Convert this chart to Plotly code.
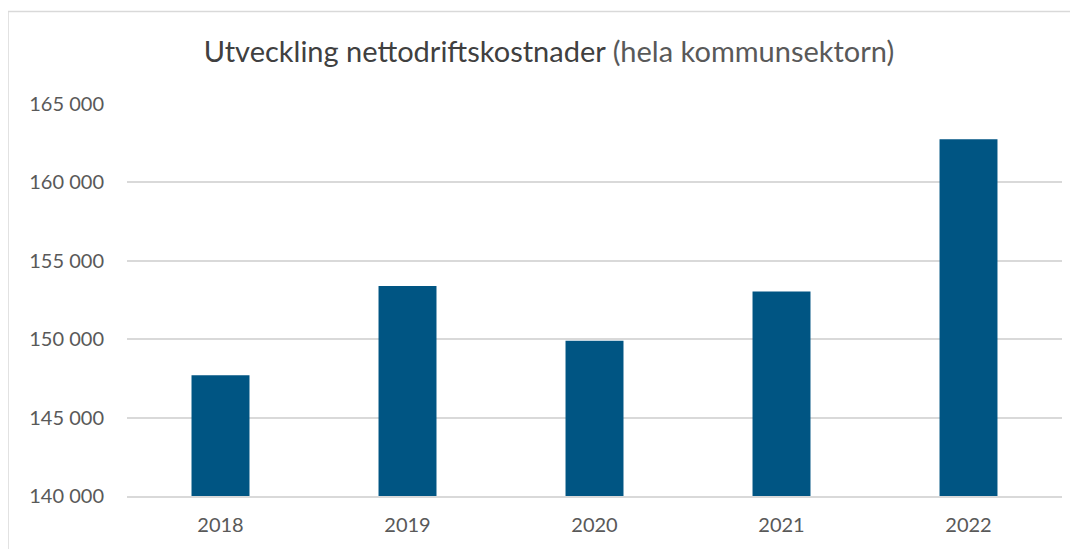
import plotly.graph_objects as go

years = ["2018", "2019", "2020", "2021", "2022"]
values = [147700, 153400, 149900, 153050, 162750]
y_ticks = [140000, 145000, 150000, 155000, 160000, 165000]

# page body has an 8px margin; figure origin sits at (8, 8)
OFF = 8
W, H = 1078 - OFF, 549 - OFF
L, R, T, B = 127 - OFF, 16, 104 - OFF, 53
pw, ph = W - L - R, H - T - B

fig = go.Figure(go.Bar(x=years, y=values, marker=dict(color="#005583", line=dict(width=0)),
                       hoverinfo="x+y"))

font = "Lato, Carlito, sans-serif"

fig.update_layout(
    width=W, height=H,
    margin=dict(l=L, r=R, t=T, b=B),
    paper_bgcolor="white", plot_bgcolor="white",
    separators=", ",
    bargap=0.69,
    showlegend=False,
    font=dict(family=font, size=20, color="#595959"),
    title=dict(
        text="<span style='color:#404040'>Utveckling nettodriftskostnader</span> "
             "<span style='color:#595959'>(hela kommunsektorn)</span>",
        x=(549 - OFF) / W, xanchor="center", y=1 - (52 - OFF) / H, yanchor="middle",
        font=dict(family=font, size=29, color="#404040"),
    ),
    xaxis=dict(
        type="category", showgrid=False, showline=True, linecolor="#d9d9d9", linewidth=1.5,
        ticks="", ticklabelstandoff=10, tickfont=dict(size=20, color="#595959"),
    ),
    yaxis=dict(
        range=[140000, 165000], tickvals=y_ticks, tickformat=",d",
        showgrid=True, gridcolor="#d9d9d9", gridwidth=1.5, zeroline=False, showline=False,
        ticks="", ticklabelstandoff=22, tickfont=dict(size=20, color="#595959"),
    ),
    shapes=[
        dict(type="line", xref="paper", yref="paper",
             x0=(8 - 127) / pw, x1=(1085 - 127) / pw,
             y0=(496 - 11.5) / ph, y1=(496 - 11.5) / ph,
             line=dict(color="#d9d9d9", width=1.5)),
        dict(type="line", xref="paper", yref="paper",
             x0=(8 - 127) / pw, x1=(8 - 127) / pw,
             y0=(496 - 11.5) / ph, y1=(496 - 560) / ph,
             line=dict(color="#d9d9d9", width=1.5)),
    ],
)

fig.write_html("out.html")
